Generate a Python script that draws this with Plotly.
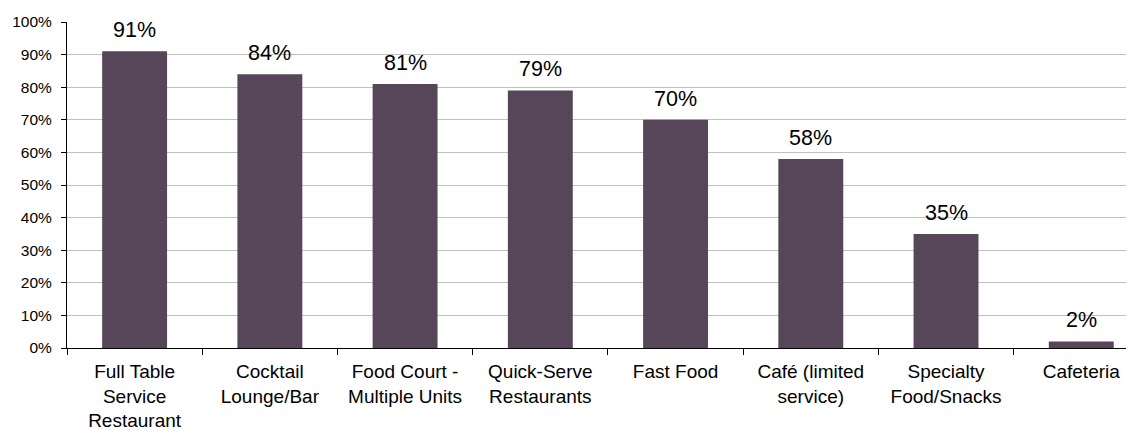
import plotly.graph_objects as go

categories = ["Full Table<br>Service<br>Restaurant", "Cocktail<br>Lounge/Bar", "Food Court -<br>Multiple Units",
              "Quick-Serve<br>Restaurants", "Fast Food", "Café (limited<br>service)", "Specialty<br>Food/Snacks", "Cafeteria"]
values = [91, 84, 81, 79, 70, 58, 35, 2]
value_labels = [f"{v}%" for v in values]
y_ticks = [0, 10, 20, 30, 40, 50, 60, 70, 80, 90, 100]
y_labels = [f"{v}%" for v in y_ticks]

FONT = "Liberation Sans, Arial"

fig = go.Figure(go.Bar(
    x=categories, y=values,
    marker=dict(color="#574559", line=dict(width=0)),
    width=0.48,
))

for c, v, t in zip(categories, values, value_labels):
    fig.add_annotation(x=c, y=v, text=t, showarrow=False, yanchor="bottom",
                       yshift=7, font=dict(size=21.5, color="#000000", family=FONT))

fig.update_layout(
    width=1126, height=428,
    margin=dict(l=59, r=0, t=14, b=88, autoexpand=False),
    paper_bgcolor="white", plot_bgcolor="white",
    font=dict(family=FONT, color="#000000"),
    showlegend=False,
    xaxis=dict(
        range=[-0.5, 7.39],
        tickson="boundaries", ticks="outside", ticklen=6, tickcolor="#000000",
        showline=True, linecolor="#000000", linewidth=1,
        tickfont=dict(size=19), showgrid=False, automargin=False,
        ticklabelstandoff=6,
    ),
    yaxis=dict(
        range=[0, 100], tickvals=y_ticks, ticktext=y_labels,
        ticks="outside", ticklen=5, tickcolor="#000000",
        showline=True, linecolor="#000000", linewidth=1,
        showgrid=True, gridcolor="#c0c0c0", gridwidth=1,
        tickfont=dict(size=15.5), zeroline=False, automargin=False,
        ticklabelstandoff=6,
    ),
)

fig.write_html("out.html")
